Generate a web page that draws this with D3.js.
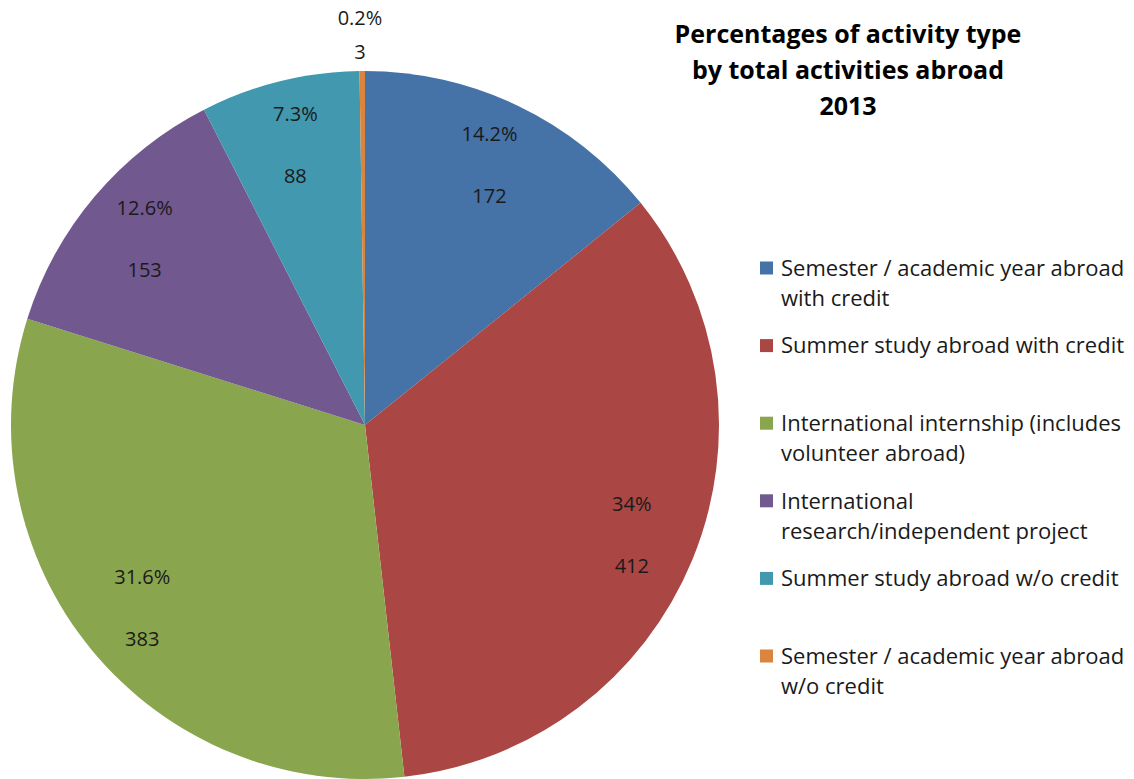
<!DOCTYPE html>
<html>
<head>
<meta charset="utf-8">
<script src="https://cdn.jsdelivr.net/npm/d3@7"></script>
<style>
  html, body { margin: 0; padding: 0; background: #fff; }
  svg { display: block; }
  text { font-family: "Open Sans", "Liberation Sans", sans-serif; }
</style>
</head>
<body>
<svg id="chart" width="1134" height="779"></svg>
<script>
const categories = [
  "Semester / academic year abroad with credit",
  "Summer study abroad with credit",
  "International internship (includes volunteer abroad)",
  "International research/independent project",
  "Summer study abroad w/o credit",
  "Semester / academic year abroad w/o credit"
];
const legendLines = [
  ["Semester / academic year abroad", "with credit"],
  ["Summer study abroad with credit"],
  ["International internship (includes", "volunteer abroad)"],
  ["International", "research/independent project"],
  ["Summer study abroad w/o credit"],
  ["Semester / academic year abroad", "w/o credit"]
];
const values = [172, 412, 383, 153, 88, 3];
const percentLabels = ["14.2%", "34%", "31.6%", "12.6%", "7.3%", "0.2%"];
const colors = ["#4572A7", "#AA4643", "#89A54E", "#71588F", "#4198AF", "#DB843D"];
const titleLines = ["Percentages of activity type", "by total activities abroad", "2013"];

const svg = d3.select("#chart");
const cx = 365, cy = 425, R = 354;

const pie = d3.pie().sort(null).value(d => d)(values);
const arc = d3.arc().innerRadius(0).outerRadius(R);
const labelArc = d3.arc().innerRadius(R * 0.815).outerRadius(R * 0.815);

const g = svg.append("g").attr("transform", `translate(${cx},${cy})`);
g.selectAll("path").data(pie).join("path")
  .attr("d", arc)
  .attr("fill", (d, i) => colors[i]);

const labels = g.selectAll("g.lbl").data(pie).join("g").attr("class", "lbl")
  .attr("transform", (d, i) => {
    if (i === 5) {
      const a = (d.startAngle + d.endAngle) / 2;
      const r = R + 36;
      return `translate(${Math.sin(a) * r - 2},${-Math.cos(a) * r})`;
    }
    const [x, y] = labelArc.centroid(d);
    return `translate(${x},${y})`;
  });
labels.append("text")
  .attr("text-anchor", "middle")
  .attr("y", (d, i) => i === 5 ? -17 : -31)
  .attr("dy", "0.35em")
  .attr("font-size", 20)
  .attr("fill", "#1a1a1a")
  .text((d, i) => percentLabels[i]);
labels.append("text")
  .attr("text-anchor", "middle")
  .attr("y", (d, i) => i === 5 ? 17 : 31)
  .attr("dy", "0.35em")
  .attr("font-size", 20)
  .attr("fill", "#1a1a1a")
  .text((d, i) => values[i]);

// Title
svg.append("g").selectAll("text").data(titleLines).join("text")
  .attr("x", 848)
  .attr("y", (d, i) => 34 + i * 36)
  .attr("dy", "0.35em")
  .attr("text-anchor", "middle")
  .attr("font-weight", "bold")
  .attr("font-size", 25)
  .attr("fill", "#000")
  .text(d => d);

// Legend
const legendY = d3.scalePoint().domain(d3.range(categories.length)).range([268, 656]);
const lg = svg.append("g").selectAll("g").data(categories).join("g")
  .attr("transform", (d, i) => `translate(760,${legendY(i)})`);
lg.append("rect").attr("x", 0).attr("y", -6.5).attr("width", 13).attr("height", 13)
  .attr("fill", (d, i) => colors[i]);
lg.each(function(d, i) {
  d3.select(this).selectAll("text").data(legendLines[i]).join("text")
    .attr("x", 21)
    .attr("y", (t, j) => j * 30.5)
    .attr("dy", "0.35em")
    .attr("font-size", 22)
    .attr("fill", "#1a1a1a")
    .text(t => t);
});
</script>
</body>
</html>
